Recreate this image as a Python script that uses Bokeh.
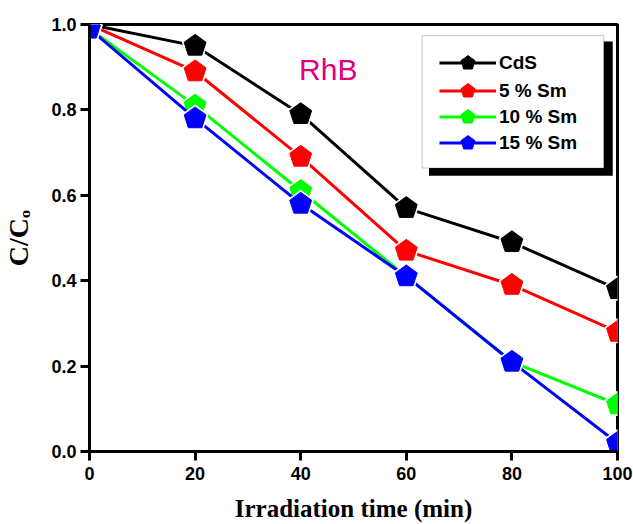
from bokeh.plotting import figure
from bokeh.models import (Range1d, Legend, LegendItem, BoxAnnotation, Label,
                          ColumnDataSource, FixedTicker, PrintfTickFormatter)
from bokeh.embed import file_html
from bokeh.resources import INLINE

# ---- data ----
time_min = [0, 20, 40, 60, 80, 100]
cds = [1.00, 0.95, 0.79, 0.57, 0.49, 0.38]
sm5 = [1.00, 0.89, 0.69, 0.47, 0.39, 0.28]
sm10 = [0.99, 0.81, 0.61, 0.41, 0.21, 0.11]
sm15 = [0.99, 0.78, 0.58, 0.41, 0.21, 0.02]
series_names = ["CdS", "5 % Sm", "10 % Sm", "15 % Sm"]
series_colors = ["#000000", "#FF0000", "#00FF00", "#0000FF"]
x_ticks = [0, 20, 40, 60, 80, 100]
y_ticks = [0.0, 0.2, 0.4, 0.6, 0.8, 1.0]

p = figure(width=633, height=524, output_backend="svg", toolbar_location=None,
           x_range=Range1d(0, 100), y_range=Range1d(0, 1),
           min_border_left=88, min_border_right=16, min_border_top=24,
           min_border_bottom=71)
p.grid.visible = False
p.outline_line_color = "black"
p.outline_line_width = 3
p.background_fill_color = "white"
p.border_fill_color = "white"

for ax in (p.xaxis, p.yaxis):
    ax.axis_line_width = 3
    ax.axis_line_color = "black"
    ax.major_tick_line_width = 3
    ax.major_tick_out = 9
    ax.major_tick_in = 0
    ax.minor_tick_line_color = None
    ax.major_label_text_font = "Liberation Sans"
    ax.major_label_text_font_style = "bold"
    ax.major_label_text_font_size = "18px"
    ax.major_label_text_color = "black"
    ax.axis_label_text_font = "Liberation Serif"
    ax.axis_label_text_font_style = "bold"
    ax.axis_label_text_color = "black"

p.xaxis.ticker = FixedTicker(ticks=x_ticks)
p.yaxis.ticker = FixedTicker(ticks=y_ticks)
p.yaxis.formatter = PrintfTickFormatter(format="%.1f")
p.xaxis.major_label_standoff = 6
p.yaxis.major_label_standoff = 4
p.xaxis.axis_label = "Irradiation time (min)"
p.yaxis.axis_label = "C/C\u2092"
p.xaxis.axis_label_text_font_size = "25px"
p.yaxis.axis_label_text_font_size = "28px"
p.xaxis.axis_label_standoff = 12
p.yaxis.axis_label_standoff = 14

# legend box + drop shadow (decoration)
p.add_layout(BoxAnnotation(left=64.3, right=99.1, bottom=0.646, top=0.960,
                           fill_color="black", fill_alpha=1.0, line_color=None))
p.add_layout(BoxAnnotation(left=63.0, right=97.4, bottom=0.664, top=0.974,
                           fill_color="white", fill_alpha=1.0,
                           line_color="#444444", line_width=1))

all_series = [cds, sm5, sm10, sm15]
legend_rows_y = [370, 342, 316, 290]  # screen offsets of the legend rows
for name, color, ys, ly in zip(series_names, series_colors, all_series, legend_rows_y):
    src = ColumnDataSource(dict(x=time_min, y=ys))
    lr = p.line("x", "y", source=src, line_color=color, line_width=3)
    if hasattr(p, "ngon"):
        p.ngon("x", "y", source=src, radius=13.5, radius_units="screen", n=5,
               angle=0, fill_color="white", line_color="white", line_width=1)
        mr = p.ngon("x", "y", source=src, radius=11.5, radius_units="screen", n=5,
                    angle=0, fill_color=color, line_color=color, line_width=1)
    else:
        p.scatter("x", "y", source=src, marker="hex", size=27,
                  fill_color="white", line_color="white")
        mr = p.scatter("x", "y", source=src, marker="hex", size=22,
                       fill_color=color, line_color=color)
    leg = Legend(items=[LegendItem(label=name, renderers=[lr, mr])],
                 location=(350, ly), orientation="vertical",
                 background_fill_alpha=0, border_line_color=None,
                 padding=0, margin=0, spacing=0, glyph_width=57, glyph_height=37,
                 label_height=37, label_standoff=3,
                 label_text_font="Liberation Sans", label_text_font_style="bold",
                 label_text_font_size="19px", label_text_color="black")
    p.add_layout(leg, "center")

p.add_layout(Label(x=39.7, y=0.895, text="RhB", text_color="#E2007A",
                   text_font="Liberation Sans", text_font_size="30px",
                   text_baseline="alphabetic"))

open("out.html", "w").write(file_html(p, INLINE))
